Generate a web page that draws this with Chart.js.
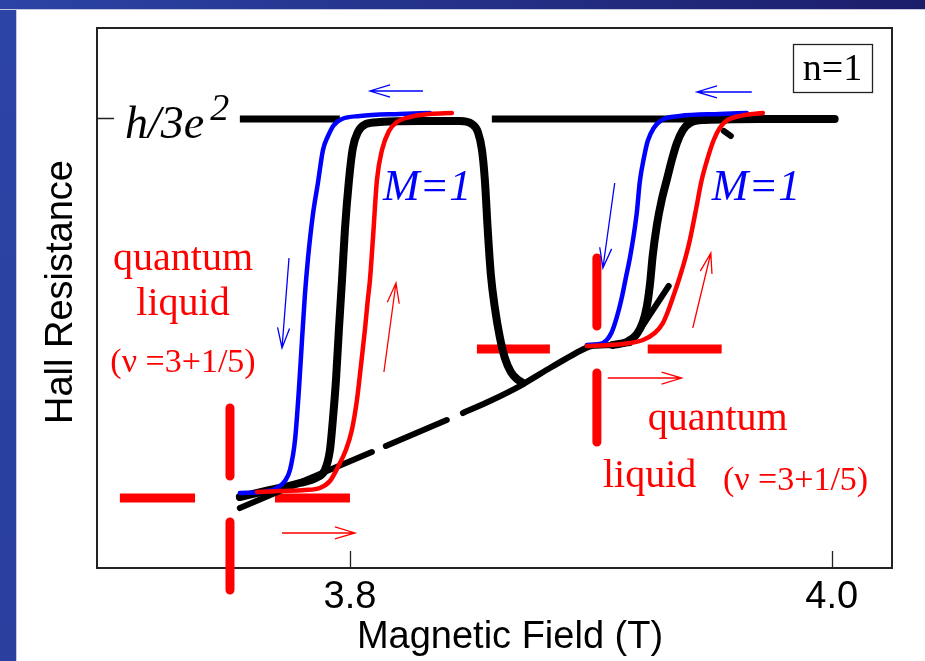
<!DOCTYPE html>
<html>
<head>
<meta charset="utf-8">
<script src="https://cdn.jsdelivr.net/npm/chart.js@4.4.1/dist/chart.umd.min.js"></script>
<style>
  html, body { margin: 0; padding: 0; background: #fff; }
  #wrap { position: relative; width: 925px; height: 661px; overflow: hidden; background: #fff; }
  #barL { position: absolute; left: 0; top: 0; width: 16px; height: 661px;
          background: linear-gradient(180deg, #2c44a6, #2a3f9e); border-right: 1px solid #c8cbe0; }
  #barT { position: absolute; left: 0; top: 0; width: 925px; height: 9px;
          background: linear-gradient(90deg, #2c44a6, #1c1e6a); border-bottom: 1px solid #c8cbe0; }
  canvas { position: absolute; left: 0; top: 0; }
</style>
</head>
<body>
<div id="wrap">
  <div id="barL"></div>
  <div id="barT"></div>
  <canvas id="c" width="925" height="661"></canvas>
</div>
<script>
// ---- axis ticks ----
const fieldTicks = [3.8, 4.0];
const hallTicks = [1.0];            // h/3e^2 plateau

// ---- black trace, first sweep (lower branch, rise, plateau, drop into the dip) ----
const blackAField = [3.7543, 3.7668, 3.7792, 3.7867, 3.7896, 3.7917, 3.7929, 3.7942, 3.7954, 3.7967,
  3.7979, 3.7996, 3.8012, 3.8033, 3.8066, 3.8124, 3.8290, 3.8456, 3.8506, 3.8531, 3.8548, 3.8560,
  3.8572, 3.8585, 3.8601, 3.8622, 3.8643, 3.8668, 3.8693, 3.8718];
const blackAHall = [0.1578, 0.1733, 0.1889, 0.2022, 0.2178, 0.2622, 0.3289, 0.4178, 0.5289, 0.6400,
  0.7511, 0.8622, 0.9333, 0.9689, 0.9867, 0.9911, 0.9933, 0.9933, 0.9867, 0.9689, 0.9289, 0.8622,
  0.7511, 0.6511, 0.5800, 0.5133, 0.4667, 0.4356, 0.4200, 0.4111];

// ---- black trace, second sweep ----
const blackBField = [3.9091, 3.9149, 3.9191, 3.9216, 3.9232, 3.9245, 3.9257, 3.9274, 3.9294, 3.9315,
  3.9336, 3.9357, 3.9382, 3.9411, 3.9473, 3.9701, 4.0012];
const blackBHall = [0.4956, 0.5022, 0.5200, 0.5467, 0.5800, 0.6289, 0.6956, 0.7622, 0.8178, 0.8622,
  0.9067, 0.9444, 0.9733, 0.9889, 0.9956, 0.9978, 0.9978];

// short black pieces beside the second sweep
const blackCField = [3.9203, 3.9323, null, 3.9552, 3.9581];
const blackCHall  = [0.5289, 0.6267, null, 0.9711, 0.9600];

// ---- black background trend (broken line) ----
const trendField = [3.7543, 3.7709, 3.7875, 3.8091, null, 3.8149, 3.8402, null,
  3.8469, 3.8581, 3.8705, 3.8830, 3.8954, 3.9004, 3.9091, 3.9162];
const trendHall  = [0.1333, 0.1711, 0.2089, 0.2578, null, 0.2711, 0.3289, null,
  0.3444, 0.3711, 0.4044, 0.4444, 0.4822, 0.4933, 0.4956, 0.5000];

// ---- plateau level h/3e^2 ----
const plateauField = [3.7543, 3.7958, null, 3.8589, 4.0012];
const plateauHall  = [0.9978, 0.9978, null, 0.9978, 0.9978];

// ---- blue sweeps (field decreasing) ----
const blueLeftField = [3.7543, 3.7635, 3.7697, 3.7730, 3.7751, 3.7772, 3.7788, 3.7801, 3.7813, 3.7826,
  3.7846, 3.7867, 3.7888, 3.7909, 3.7933, 3.7967, 3.8041, 3.8207, 3.8332];
const blueLeftHall = [0.1667, 0.1689, 0.1778, 0.1933, 0.2178, 0.2844, 0.3956, 0.5067, 0.6067, 0.6889,
  0.7844, 0.8556, 0.9289, 0.9600, 0.9844, 0.9978, 1.0044, 1.0089, 1.0111];
const blueRightField = [3.8983, 3.9037, 3.9066, 3.9087, 3.9108, 3.9128, 3.9145, 3.9162, 3.9178, 3.9191,
  3.9203, 3.9220, 3.9236, 3.9261, 3.9294, 3.9369, 3.9535, 3.9647];
const blueRightHall = [0.4956, 0.4978, 0.5067, 0.5244, 0.5578, 0.6000, 0.6444, 0.6889, 0.7400, 0.7911,
  0.8578, 0.9111, 0.9489, 0.9778, 0.9956, 1.0044, 1.0089, 1.0111];

// ---- red sweeps (field increasing) ----
const redLeftField = [3.7614, 3.7709, 3.7813, 3.7875, 3.7917, 3.7950, 3.7983, 3.8008, 3.8029, 3.8045,
  3.8062, 3.8074, 3.8083, 3.8095, 3.8112, 3.8133, 3.8162, 3.8195, 3.8249, 3.8332, 3.8423];
const redLeftHall = [0.1689, 0.1711, 0.1733, 0.1778, 0.1933, 0.2244, 0.2622, 0.3067, 0.3733, 0.4467,
  0.5289, 0.5956, 0.6400, 0.7289, 0.8622, 0.9289, 0.9711, 0.9911, 1.0022, 1.0089, 1.0111];
const redRightField = [3.8983, 3.9079, 3.9162, 3.9216, 3.9265, 3.9299, 3.9319, 3.9344, 3.9369, 3.9390,
  3.9411, 3.9436, 3.9460, 3.9485, 3.9510, 3.9535, 3.9568, 3.9618, 3.9714];
const redRightHall = [0.4933, 0.4956, 0.5000, 0.5067, 0.5222, 0.5444, 0.5689, 0.6067, 0.6467, 0.6844,
  0.7289, 0.7956, 0.8622, 0.9111, 0.9511, 0.9778, 0.9956, 1.0044, 1.0111];

// ---- cross-hair markers at the liquid / M=1 transitions ----
const crossLeftField = [3.7045, 3.7357, null, 3.7689, 3.8000, null, 3.7502, 3.7502, null, 3.7502, 3.7502];
const crossLeftHall  = [0.1556, 0.1556, null, 0.1556, 0.1556, null, 0.3556, 0.2044, null, 0.1022, -0.0489];
const crossRightField = [3.8527, 3.8830, null, 3.9236, 3.9543, null, 3.9025, 3.9025, null, 3.9025, 3.9025];
const crossRightHall  = [0.4867, 0.4867, null, 0.4867, 0.4867, null, 0.6889, 0.5378, null, 0.4333, 0.2800];

// ---- sweep-direction arrows: [field0, hall0, field1, hall1] ----
const arrowsDown = [
  [3.8303, 1.0600, 3.8083, 1.0600],
  [3.9668, 1.0578, 3.9440, 1.0578],
  [3.7747, 0.6889, 3.7718, 0.4889],
  [3.9099, 0.8556, 3.9050, 0.6667]
];
const arrowsUp = [
  [3.7718, 0.0778, 3.8021, 0.0778],
  [3.9070, 0.4222, 3.9377, 0.4222],
  [3.8141, 0.4356, 3.8191, 0.6333],
  [3.9423, 0.5333, 3.9498, 0.7000]
];

// ---- text labels ----
const liquidLabels = [
  { text: 'quantum',    field: 3.7307, hall: 0.6622, align: 'center', size: 'big' },
  { text: 'liquid',     field: 3.7307, hall: 0.5622, align: 'center', size: 'big' },
  { text: '(ν =3+1/5)', field: 3.7307, hall: 0.4356, align: 'center', size: 'small' },
  { text: 'quantum',    field: 3.9236, hall: 0.3067, align: 'left',   size: 'big' },
  { text: 'liquid',     field: 3.9050, hall: 0.1800, align: 'left',   size: 'big' },
  { text: '(ν =3+1/5)', field: 3.9548, hall: 0.1733, align: 'left',   size: 'small' }
];
const magnetLabels = [
  { text: 'M=1', field: 3.8137, hall: 0.8178 },
  { text: 'M=1', field: 3.9502, hall: 0.8178 }
];
const plateauLabel = { text: 'h/3e', sup: '2', field: 3.7066, hall: 0.9556 };
const fillingLabel = 'n=1';
const xTitle = 'Magnetic Field (T)';
const yTitle = 'Hall Resistance';

function series(xs, ys) {
  return xs.map((x, i) => ({ x: x === null ? NaN : x, y: ys[i] === null ? NaN : ys[i] }));
}

const SANS = '"Liberation Sans", Arial, Helvetica, sans-serif';
const SERIF = '"Liberation Serif", "Times New Roman", Times, serif';

const decor = {
  id: 'decor',
  beforeDatasetsDraw(chart) {
    const { ctx, chartArea: a, scales: { x, y } } = chart;
    ctx.save();
    ctx.strokeStyle = '#222';
    ctx.lineWidth = 2;
    ctx.strokeRect(a.left, a.top, a.right - a.left, a.bottom - a.top);
    ctx.lineWidth = 1.3;
    ctx.beginPath();
    fieldTicks.forEach(v => {
      const px = Math.round(x.getPixelForValue(v)) + 0.5;
      ctx.moveTo(px, a.bottom); ctx.lineTo(px, a.bottom - 17);
    });
    hallTicks.forEach(v => {
      const py = Math.round(y.getPixelForValue(v)) + 0.5;
      ctx.moveTo(a.left, py); ctx.lineTo(a.left + 17, py);
    });
    ctx.stroke();
    ctx.restore();
  },
  afterDraw(chart) {
    const { ctx, chartArea: a, scales: { x, y } } = chart;
    ctx.save();

    // sweep-direction arrows with open heads
    const drawArrow = (seg, color) => {
      const x0 = x.getPixelForValue(seg[0]), y0 = y.getPixelForValue(seg[1]);
      const x1 = x.getPixelForValue(seg[2]), y1 = y.getPixelForValue(seg[3]);
      const ang = Math.atan2(y1 - y0, x1 - x0);
      const len = 21, half = 0.29;
      ctx.strokeStyle = color;
      ctx.lineWidth = 1.3;
      ctx.beginPath();
      ctx.moveTo(x0, y0); ctx.lineTo(x1, y1);
      ctx.moveTo(x1 - len * Math.cos(ang - half), y1 - len * Math.sin(ang - half));
      ctx.lineTo(x1, y1);
      ctx.lineTo(x1 - len * Math.cos(ang + half), y1 - len * Math.sin(ang + half));
      ctx.stroke();
    };
    arrowsDown.forEach(s => drawArrow(s, '#0000ff'));
    arrowsUp.forEach(s => drawArrow(s, '#ff0000'));

    // red liquid labels
    ctx.fillStyle = '#ff0000';
    ctx.textBaseline = 'alphabetic';
    liquidLabels.forEach(l => {
      ctx.font = (l.size === 'small' ? '34px ' : '40px ') + SERIF;
      ctx.textAlign = l.align;
      ctx.fillText(l.text, x.getPixelForValue(l.field), y.getPixelForValue(l.hall));
    });

    // blue M=1 labels
    ctx.fillStyle = '#0000ff';
    ctx.textAlign = 'left';
    ctx.font = 'italic 44px ' + SERIF;
    magnetLabels.forEach(l => ctx.fillText(l.text, x.getPixelForValue(l.field), y.getPixelForValue(l.hall)));

    // plateau label h/3e^2
    ctx.fillStyle = '#000';
    ctx.font = 'italic 46px ' + SERIF;
    const hx = x.getPixelForValue(plateauLabel.field), hy = y.getPixelForValue(plateauLabel.hall);
    ctx.fillText(plateauLabel.text, hx, hy);
    const w = ctx.measureText(plateauLabel.text).width;
    ctx.font = 'italic 38px ' + SERIF;
    ctx.fillText(plateauLabel.sup, hx + w + 6, hy - 18);

    // filling-factor box
    const bw = 79, bh = 48, bx = a.right - 20 - bw, by = a.top + 16;
    ctx.fillStyle = '#fff';
    ctx.fillRect(bx, by, bw, bh);
    ctx.strokeStyle = '#222';
    ctx.lineWidth = 1.3;
    ctx.strokeRect(bx + 0.5, by + 0.5, bw, bh);
    ctx.fillStyle = '#000';
    ctx.font = '38px ' + SERIF;
    ctx.textAlign = 'center';
    ctx.fillText(fillingLabel, bx + bw / 2, by + 36);

    // axis titles
    ctx.font = '38px ' + SANS;
    ctx.fillStyle = '#000';
    ctx.textAlign = 'center';
    ctx.fillText(xTitle, a.left + 413, a.bottom + 80);
    ctx.translate(a.left - 25, (a.top + a.bottom) / 2 - 6);
    ctx.rotate(-Math.PI / 2);
    ctx.fillText(yTitle, 0, 0);
    ctx.restore();
  }
};

const thin = { pointRadius: 0, showLine: true, fill: false };
const smooth = { cubicInterpolationMode: 'monotone' };

new Chart(document.getElementById('c'), {
  type: 'scatter',
  data: {
    datasets: [
      { ...thin, ...smooth, label: 'sweep up, first', data: series(redLeftField, redLeftHall), borderColor: '#ff0000', borderWidth: 4.5, order: 0 },
      { ...thin, ...smooth, label: 'sweep up, second', data: series(redRightField, redRightHall), borderColor: '#ff0000', borderWidth: 4.5, order: 0 },
      { ...thin, ...smooth, label: 'sweep down, first', data: series(blueLeftField, blueLeftHall), borderColor: '#0000ff', borderWidth: 4.5, order: 1 },
      { ...thin, ...smooth, label: 'sweep down, second', data: series(blueRightField, blueRightHall), borderColor: '#0000ff', borderWidth: 4.5, order: 1 },
      { ...thin, ...smooth, label: 'trace A', data: series(blackAField, blackAHall), borderColor: '#000', borderWidth: 8, order: 2 },
      { ...thin, ...smooth, label: 'trace B', data: series(blackBField, blackBHall), borderColor: '#000', borderWidth: 8, order: 2 },
      { ...thin, label: 'trace C', data: series(blackCField, blackCHall), borderColor: '#000', borderWidth: 6, tension: 0, order: 2 },
      { ...thin, label: 'background', data: series(trendField, trendHall), borderColor: '#000', borderWidth: 6, tension: 0.2, order: 3, spanGaps: false },
      { ...thin, label: 'plateau', data: series(plateauField, plateauHall), borderColor: '#000', borderWidth: 7, tension: 0, order: 3, borderCapStyle: 'butt', spanGaps: false },
      { ...thin, label: 'cross 1', data: series(crossLeftField, crossLeftHall), borderColor: '#ff0000', borderWidth: 9, tension: 0, order: 4, borderCapStyle: 'butt', spanGaps: false, clip: false },
      { ...thin, label: 'cross 2', data: series(crossRightField, crossRightHall), borderColor: '#ff0000', borderWidth: 9, tension: 0, order: 4, borderCapStyle: 'butt', spanGaps: false, clip: false }
    ]
  },
  options: {
    responsive: false,
    animation: false,
    devicePixelRatio: 1,
    layout: { padding: { top: 28, right: 33, left: 0, bottom: 0 } },
    plugins: { legend: { display: false }, tooltip: { enabled: false } },
    elements: { line: { borderCapStyle: 'round', borderJoinStyle: 'round' }, point: { radius: 0 } },
    scales: {
      x: {
        type: 'linear', min: 3.695, max: 4.025,
        afterBuildTicks: s => { s.ticks = fieldTicks.map(v => ({ value: v })); },
        afterFit: s => { s.height = 93; },
        grid: { display: false, drawTicks: false },
        border: { display: false },
        ticks: { font: { family: SANS, size: 38 }, color: '#000', padding: 7, maxRotation: 0, autoSkip: false,
                 callback: v => Number(v).toFixed(1) }
      },
      y: {
        type: 'linear', min: 0, max: 1.2,
        afterBuildTicks: s => { s.ticks = hallTicks.map(v => ({ value: v })); },
        afterFit: s => { s.width = 97; },
        grid: { display: false, drawTicks: false },
        border: { display: false },
        ticks: { display: false }
      }
    }
  },
  plugins: [decor]
});
</script>
</body>
</html>
